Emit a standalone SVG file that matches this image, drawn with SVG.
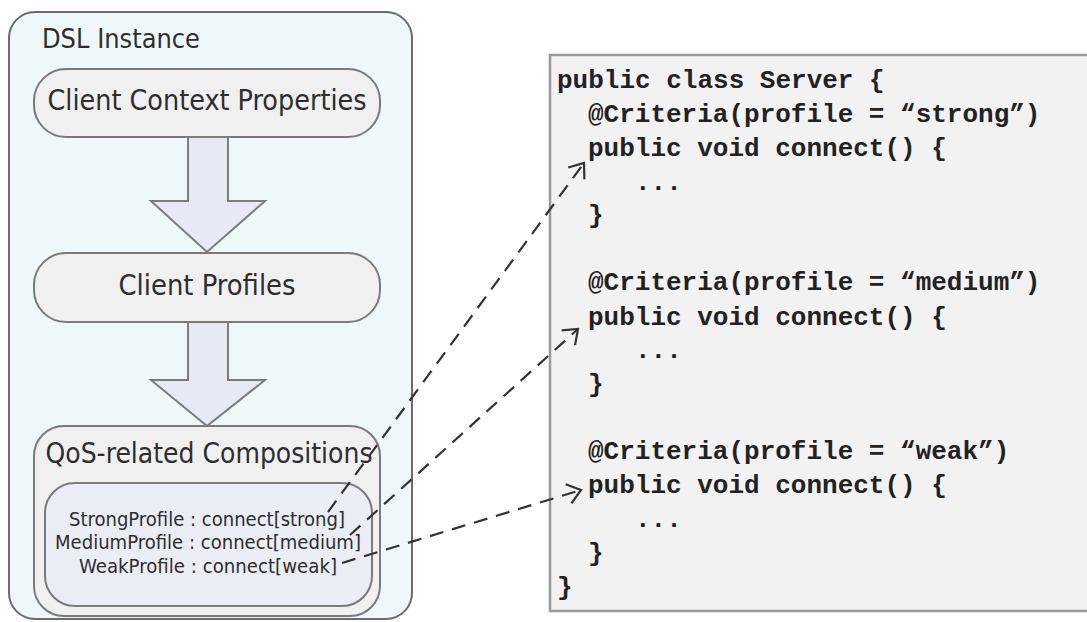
<svg xmlns="http://www.w3.org/2000/svg" width="1087" height="622" viewBox="0 0 1087 622">
  <style>
    .lbl { font-family: "DejaVu Sans Condensed", "DejaVu Sans", sans-serif; font-stretch: condensed; fill: #2e2e2e; }
    .big { font-size: 28px; }
    .small { font-size: 19.5px; }
    .code { font-family: "Liberation Mono", "Courier New", monospace; font-weight: bold; font-size: 26px; fill: #222; }
    .pill { fill: #f0f0f0; stroke: #7a7a7a; stroke-width: 2; }
    .flow { fill: #e5eaf5; stroke: #7c7c7c; stroke-width: 2; stroke-linejoin: miter; }
    .link { fill: none; stroke: #333; stroke-width: 2.2; stroke-dasharray: 14 9; }
  </style>
  <defs>
    <marker id="openHead" viewBox="-16 -12 18 24" refX="0" refY="0" markerWidth="18" markerHeight="24" markerUnits="userSpaceOnUse" orient="auto">
      <path d="M-13,-10 L0,0 L-13,10" fill="none" stroke="#333" stroke-width="2.2"/>
    </marker>
  </defs>
  <rect width="1087" height="622" fill="#ffffff"/>

  <!-- outer container -->
  <g id="dsl-instance">
    <rect x="9" y="12" width="403" height="607" rx="26" fill="#eef7fa" stroke="#6b6b6b" stroke-width="2"/>
    <text class="lbl" x="42" y="48" font-size="27" textLength="158" lengthAdjust="spacingAndGlyphs">DSL Instance</text>
  </g>

  <g id="client-context-properties">
    <rect class="pill" x="34" y="69" width="346" height="68" rx="32"/>
    <text class="lbl big" x="207" y="110" text-anchor="middle" textLength="319" lengthAdjust="spacingAndGlyphs">Client Context Properties</text>
  </g>

  <g id="flow-arrow-1">
    <path class="flow" d="M188,137 L228,137 L228,201 L265,201 L207,252 L151,201 L188,201 Z"/>
  </g>

  <g id="client-profiles">
    <rect class="pill" x="34" y="253" width="346" height="69" rx="32"/>
    <text class="lbl big" x="207" y="295" text-anchor="middle" textLength="177" lengthAdjust="spacingAndGlyphs">Client Profiles</text>
  </g>

  <g id="flow-arrow-2">
    <path class="flow" d="M188,322 L228,322 L228,380 L265,380 L207,426 L151,380 L188,380 Z"/>
  </g>

  <g id="qos-compositions">
    <rect class="pill" x="34" y="426" width="346" height="190" rx="30"/>
    <text class="lbl big" x="209" y="463" text-anchor="middle" textLength="327" lengthAdjust="spacingAndGlyphs">QoS-related Compositions</text>
    <rect x="45" y="483" width="327" height="123" rx="30" fill="#eaedf4" stroke="#7a7a7a" stroke-width="2"/>
    <text class="lbl small" x="207" y="526" text-anchor="middle" textLength="276" lengthAdjust="spacingAndGlyphs">StrongProfile : connect[strong]</text>
    <text class="lbl small" x="208" y="549" text-anchor="middle" textLength="306" lengthAdjust="spacingAndGlyphs">MediumProfile : connect[medium]</text>
    <text class="lbl small" x="208" y="573" text-anchor="middle" textLength="258" lengthAdjust="spacingAndGlyphs">WeakProfile : connect[weak]</text>
  </g>

  <!-- server source listing -->
  <g id="server-code">
    <rect x="550" y="55" width="545" height="556" fill="#f2f2f2" stroke="#999" stroke-width="2.5"/>
    <text class="code" x="557" y="88">public class Server {</text>
    <text class="code" x="588" y="122">@Criteria(profile = “strong”)</text>
    <text class="code" x="588" y="156">public void connect() {</text>
    <text class="code" x="635" y="190">...</text>
    <text class="code" x="588" y="223">}</text>
    <text class="code" x="588" y="290">@Criteria(profile = “medium”)</text>
    <text class="code" x="588" y="325">public void connect() {</text>
    <text class="code" x="635" y="358">...</text>
    <text class="code" x="588" y="392">}</text>
    <text class="code" x="588" y="459">@Criteria(profile = “weak”)</text>
    <text class="code" x="588" y="493">public void connect() {</text>
    <text class="code" x="635" y="527">...</text>
    <text class="code" x="588" y="561">}</text>
    <text class="code" x="557" y="595">}</text>
  </g>

  <!-- profile-to-method connectors -->
  <g id="connectors">
    <path class="link" d="M328,512 L584,163" marker-end="url(#openHead)"/>
    <path class="link" d="M350,535 L578,329" marker-end="url(#openHead)"/>
    <path class="link" d="M342,563 L581,490" marker-end="url(#openHead)"/>
  </g>
</svg>
